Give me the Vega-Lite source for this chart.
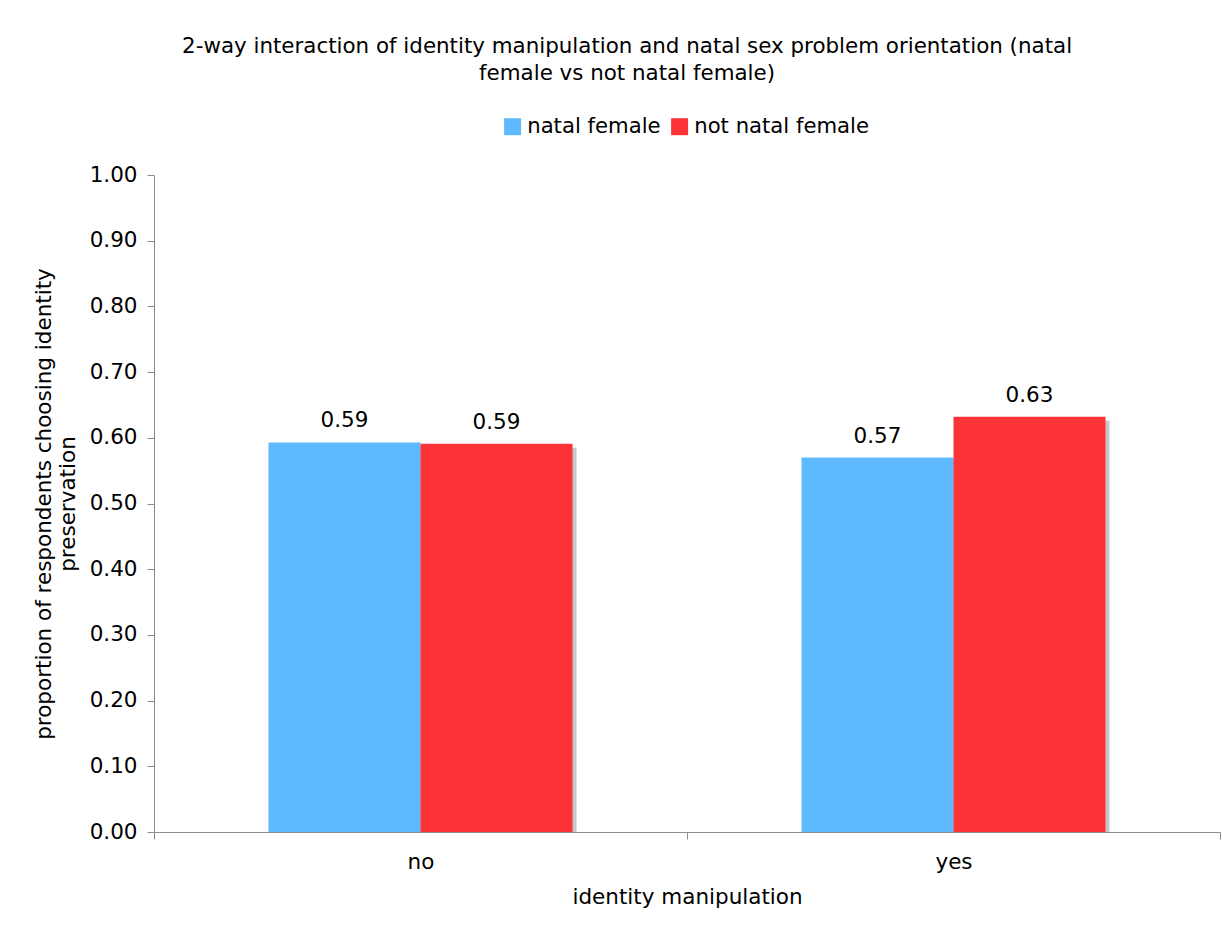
{
  "$schema": "https://vega.github.io/schema/vega-lite/v6.json",
  "width": 1066,
  "height": 657,
  "autosize": {"type": "none"},
  "padding": {"left": 154, "top": 175, "right": 2, "bottom": 94},
  "background": "white",
  "title": {
    "text": ["2-way interaction of identity manipulation and natal sex problem orientation (natal", "female vs not natal female)"],
    "font": "DejaVu Sans",
    "fontSize": 21.4,
    "fontWeight": "normal",
    "color": "#000000",
    "anchor": "middle",
    "frame": "bounds",
    "lineHeight": 27,
    "offset": 32
  },
  "data": {
    "values": [
      {"manipulation": "no", "group": "natal female", "proportion": 0.593},
      {"manipulation": "no", "group": "not natal female", "proportion": 0.591},
      {"manipulation": "yes", "group": "natal female", "proportion": 0.570},
      {"manipulation": "yes", "group": "not natal female", "proportion": 0.632}
    ]
  },
  "encoding": {
    "x": {
      "field": "manipulation",
      "type": "nominal",
      "scale": {"paddingInner": 0, "paddingOuter": 0},
      "axis": {
        "title": "identity manipulation",
        "labelAngle": 0,
        "tickBand": "extent",
        "labelPadding": 12,
        "titlePadding": 14
      }
    },
    "y": {
      "field": "proportion",
      "type": "quantitative",
      "scale": {"domain": [0, 1], "nice": false},
      "axis": {
        "title": ["proportion of respondents choosing identity", "preservation"],
        "values": [0, 0.1, 0.2, 0.3, 0.4, 0.5, 0.6, 0.7, 0.8, 0.9, 1.0],
        "format": ".2f",
        "grid": false,
        "labelPadding": 10,
        "titlePadding": 10
      }
    }
  },
  "layer": [
    {
      "description": "drop shadow behind each bar, shifted right and down",
      "mark": {"type": "bar", "color": "#c8c8c8", "yOffset": 4, "y2Offset": 0},
      "encoding": {
        "y2": {"datum": 0},
        "xOffset": {
          "field": "group",
          "type": "nominal",
          "scale": {"paddingInner": 0, "paddingOuter": 0.753, "range": [4, 537]}
        }
      }
    },
    {
      "layer": [
        {
          "mark": {"type": "bar"},
          "encoding": {
            "color": {
              "field": "group",
              "type": "nominal",
              "scale": {"domain": ["natal female", "not natal female"], "range": ["#5fb9ff", "#fc3437"]},
              "legend": {
                "title": null,
                "orient": "none",
                "direction": "horizontal",
                "legendX": 348,
                "legendY": -59,
                "symbolType": "square",
                "symbolSize": 289,
                "symbolStrokeWidth": 0,
                "labelOffset": 4,
                "columnPadding": 8,
                "labelLimit": 0,
                "labelFont": "DejaVu Sans",
                "labelFontSize": 21.2,
                "labelColor": "#000000"
              }
            }
          }
        },
        {
          "mark": {"type": "text", "baseline": "bottom", "dy": -10, "font": "DejaVu Sans", "fontSize": 21.5, "color": "#000000"},
          "encoding": {
            "text": {"field": "proportion", "type": "quantitative", "format": ".2f"}
          }
        }
      ],
      "encoding": {
        "xOffset": {
          "field": "group",
          "type": "nominal",
          "scale": {"paddingInner": 0, "paddingOuter": 0.753}
        }
      }
    }
  ],
  "resolve": {"scale": {"xOffset": "independent"}},
  "config": {
    "view": {"stroke": null},
    "axis": {
      "labelFont": "DejaVu Sans",
      "labelFontSize": 21.5,
      "labelColor": "#000000",
      "titleFont": "DejaVu Sans",
      "titleFontSize": 21.5,
      "titleFontWeight": "normal",
      "titleColor": "#000000",
      "domainColor": "#8c8c8c",
      "tickColor": "#8c8c8c",
      "tickSize": 7,
      "domainWidth": 1,
      "tickWidth": 1
    }
  }
}
